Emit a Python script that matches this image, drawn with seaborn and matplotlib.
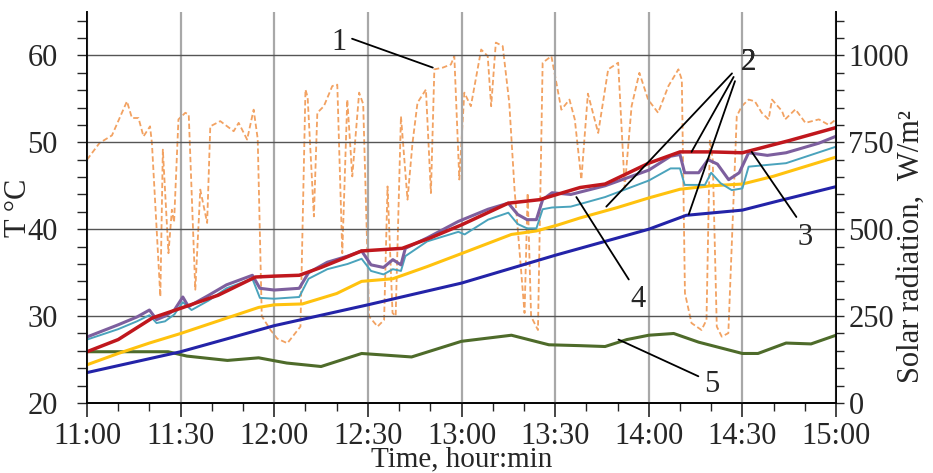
"""Temperatures and solar radiation, 11:00-15:00."""

import matplotlib
matplotlib.use("Agg")
import matplotlib.pyplot as plt
from matplotlib.ticker import MultipleLocator
import seaborn as sns

sns.set_style("ticks")
plt.rcParams["font.family"] = ["Liberation Serif", "DejaVu Serif"]

# time in minutes after 11:00
TIME_LABELS = ["11:00", "11:30", "12:00", "12:30", "13:00", "13:30", "14:00", "14:30", "15:00"]

# 1 - solar radiation, W/m2 (right axis)
t_sun = [0, 4, 8, 12.8, 14.4, 16.5, 18.1, 20.2, 20.8, 23.5,
         24.3, 26.1, 27.2, 27.9, 29.3, 31.5, 32.6, 34.7, 36.3, 38.5,
         39.5, 42.7, 47, 48.6, 51.3, 53.4, 54.7, 56, 58.8, 61,
         64.2, 68.4, 70, 70.7, 72.7, 73.8, 75.9, 78.6, 80.2, 81.8,
         83.4, 85, 87.2, 88.5, 90.4, 93.1, 95.2, 96.3, 97.9, 98.9,
         100.6, 102.7, 104.3, 105.9, 108.6, 110.2, 111.3, 114, 116.6, 117.7,
         119.3, 120.9, 123, 126.3, 128.4, 129.5, 131, 133.2, 135.3, 137,
         140.2, 141.2, 142.3, 144.5, 146, 148.8, 152, 154.6, 156.3, 158.4,
         160.5, 163.8, 167, 170.2, 172.3, 174.5, 177, 179.8, 183, 186.3,
         189.5, 190.6, 191.6, 193.7, 196.9, 198.5, 199.6, 200.5, 201.8, 203.4,
         205.5, 208.2, 209.8, 212, 214, 216.2, 218.4, 219.5, 222.7, 223.7,
         227, 230.2, 234.5, 237.7, 240]
sun = [700, 748, 770, 868, 820, 820, 767, 796, 748, 306,
       729, 431, 556, 520, 816, 835, 830, 326, 614, 518,
       796, 811, 782, 806, 758, 844, 760, 250, 210, 185,
       172, 220, 902, 880, 537, 835, 854, 912, 916, 431,
       873, 652, 893, 860, 249, 220, 239, 623, 259, 250,
       825, 585, 748, 864, 902, 604, 960, 965, 974, 998,
       643, 893, 854, 1017, 998, 854, 1037, 1027, 864, 614,
       259, 604, 249, 210, 979, 998, 844, 873, 816, 643,
       890, 777, 960, 979, 620, 854, 950, 873, 835, 912,
       960, 930, 316, 230, 210, 239, 758, 700, 220, 191,
       201, 825, 854, 873, 868, 835, 816, 873, 840, 816,
       845, 806, 816, 800, 816]

# 2 - purple and cyan curves
t_purple = [0, 10, 16, 20, 22.3, 25, 28, 30.7, 32.5, 39,
            44.7, 53, 55.4, 60, 68, 71, 77, 83.5, 88, 91,
            95, 98, 100.6, 102, 109, 119, 128.5, 135, 138, 141,
            144, 146, 149, 155, 166, 180, 187, 190, 191.5, 196,
            199, 202, 205.6, 209, 212, 218, 224, 234.5, 240]
purple = [27.6, 29.0, 29.9, 30.7, 29.6, 30.0, 30.7, 32.2, 31.1, 32.4,
          33.6, 34.7, 33.2, 33.0, 33.2, 35.0, 36.2, 36.9, 37.5, 35.9,
          35.6, 36.5, 35.9, 37.8, 39.0, 40.9, 42.3, 43.0, 41.7, 41.1,
          41.1, 43.4, 44.2, 44.0, 45.0, 46.8, 48.4, 48.6, 46.5, 46.5,
          48.0, 47.5, 45.7, 46.5, 48.8, 48.5, 48.8, 49.9, 50.7]

t_cyan = [0, 10, 16, 20, 22.3, 25, 28, 30.7, 33.5, 39,
          44.7, 53, 55.4, 60, 68, 71, 77, 83.5, 88, 91,
          95, 98, 100.6, 102, 109, 119, 121, 128.5, 135, 138,
          141, 144, 146, 149, 155, 166, 180, 187, 190, 191.5,
          198, 200, 203, 206.6, 210, 212, 224, 240]
cyan = [27.3, 28.5, 29.4, 30.1, 29.2, 29.4, 30.2, 31.6, 30.7, 31.8,
        33.2, 34.3, 32.1, 32.0, 32.2, 34.3, 35.4, 36.0, 36.6, 35.2,
        34.8, 35.4, 35.2, 36.9, 38.6, 39.7, 39.4, 41.1, 41.9, 40.6,
        40.1, 40.1, 42.3, 42.5, 42.6, 43.7, 45.6, 47.0, 47.0, 45.1,
        45.1, 46.5, 45.3, 44.5, 44.7, 47.2, 47.6, 49.5]

# 3 - red
t_red = [0, 10, 21, 30, 42, 54, 60, 68, 75, 88, 101, 110, 120, 135, 145,
         158, 166, 180, 190, 200, 210, 225, 240]
red = [25.9, 27.3, 29.8, 30.9, 32.4, 34.5, 34.6, 34.7, 35.6, 37.5, 37.8, 39.0, 40.5, 43.0, 43.4,
       44.8, 45.2, 47.6, 48.9, 48.9, 48.8, 50.2, 51.7]

# 4 - yellow
t_yellow = [0, 10, 20, 30, 45, 55, 60, 69, 80, 88, 98, 109, 120, 136, 144,
            151, 158, 170, 180, 190, 200, 210, 220, 230, 240]
yellow = [24.4, 25.7, 26.9, 28.0, 29.8, 31.0, 31.3, 31.4, 32.6, 34.0, 34.3, 35.7, 37.2, 39.4, 39.8,
          40.5, 41.3, 42.5, 43.6, 44.6, 45.0, 45.2, 46.1, 47.2, 48.3]

# blue
t_blue = [0, 30, 60, 90, 120, 150, 158, 168, 180, 192, 210, 222, 240]
blue = [23.5, 25.9, 28.9, 31.3, 33.8, 37.0, 37.8, 38.8, 40.0, 41.6, 42.2, 43.3, 44.9]

# 5 - green (ambient)
t_green = [0, 26, 32, 45, 55, 64, 75, 88, 104, 120, 136, 148, 158, 166, 173,
           180, 188, 196, 210, 215, 224, 232, 240]
green = [25.9, 25.9, 25.4, 24.9, 25.2, 24.6, 24.2, 25.7, 25.3, 27.1, 27.8, 26.7, 26.6, 26.5, 27.3,
         27.8, 28.0, 27.0, 25.7, 25.7, 26.9, 26.8, 27.8]

FS = 22

fig = plt.figure(figsize=(9.33, 4.73), dpi=100)
ax = fig.add_axes([87 / 933, 70 / 473, 749 / 933, 391 / 473])
ax2 = ax.twinx()
ax.set_zorder(ax2.get_zorder() + 1)
ax.patch.set_visible(False)

sns.lineplot(x=t_sun, y=sun, ax=ax2, color="#F2A262", lw=1.3,
             estimator=None, sort=False)
ax2.lines[-1].set_dashes([3, 1.6])

kw = dict(estimator=None, sort=False, ax=ax)
sns.lineplot(x=t_green, y=green, color="#4E6B2A", lw=2.2, **kw)
sns.lineplot(x=t_blue, y=blue, color="#2323A8", lw=2.2, **kw)
sns.lineplot(x=t_yellow, y=yellow, color="#FFC20E", lw=2.2, **kw)
sns.lineplot(x=t_cyan, y=cyan, color="#4AA3BC", lw=1.4, **kw)
sns.lineplot(x=t_purple, y=purple, color="#7D5F9E", lw=2.2, **kw)
sns.lineplot(x=t_red, y=red, color="#C0171D", lw=2.5, **kw)

ax.set_xlim(0, 240)
ax.set_ylim(20, 65)
ax2.set_ylim(0, 1125)
ax.set_xticks(range(0, 241, 30), TIME_LABELS)
ax.xaxis.set_minor_locator(MultipleLocator(10))
ax.set_yticks([20, 30, 40, 50, 60])
ax.yaxis.set_minor_locator(MultipleLocator(2))
ax2.set_yticks([0, 250, 500, 750, 1000])
ax2.yaxis.set_minor_locator(MultipleLocator(50))

ax.grid(axis="y", which="major", color="#555555", lw=1.0)
ax.grid(axis="x", which="major", color="#A8A8A8", lw=1.6)
ax.set_axisbelow(True)

for a in (ax, ax2):
    a.spines["top"].set_visible(False)
    for s in a.spines.values():
        s.set_color("black")
        s.set_linewidth(1.2)

ax.tick_params(axis="y", which="both", direction="out", length=7, width=1,
               labelsize=FS, pad=14)
ax.tick_params(axis="x", which="major", direction="out", length=10, width=1.2,
               labelsize=FS, pad=4)
ax.tick_params(axis="x", which="minor", direction="out", length=6, width=1)
ax2.tick_params(axis="y", which="both", direction="out", length=6, width=1,
                labelsize=FS, pad=3)

ax.set_xlabel("Time, hour:min", fontsize=21)
ax.xaxis.set_label_coords(0.5, -0.11)
ax.set_ylabel("T °C", fontsize=FS)
ax.yaxis.set_label_coords(-0.072, 0.5)
ax2.set_ylabel("Solar radiation,  W/m²", fontsize=FS)
ax2.yaxis.set_label_coords(1.081, 0.40)

arrow = dict(arrowstyle="-", color="black", lw=1.3, shrinkA=2, shrinkB=0)
ax.annotate("1", xy=(110.8, 58.6), xytext=(80.6, 61.5), fontsize=FS,
            ha="center", va="center", arrowprops=dict(arrow, relpos=(1, 0.7)))
for target in [(166.4, 42.6), (193.7, 48.9), (192.8, 41.7)]:
    ax.annotate("2", xy=target, xytext=(212.0, 59.2), fontsize=FS,
                ha="center", va="center",
                arrowprops=dict(arrow, relpos=(0, 0.45), shrinkA=6))
ax.annotate("3", xy=(213.0, 48.9), xytext=(230.0, 39.1), fontsize=FS,
            ha="center", va="center", arrowprops=dict(arrow, relpos=(0.2, 1)))
ax.annotate("4", xy=(156.8, 43.7), xytext=(176.7, 31.9), fontsize=FS,
            ha="center", va="center", arrowprops=dict(arrow, relpos=(0.1, 1)))
ax.annotate("5", xy=(170.3, 27.3), xytext=(200.2, 22.1), fontsize=FS,
            ha="center", va="center", arrowprops=dict(arrow, relpos=(0, 0.7)))

fig.savefig("out.png", dpi=100)
plt.close(fig)
